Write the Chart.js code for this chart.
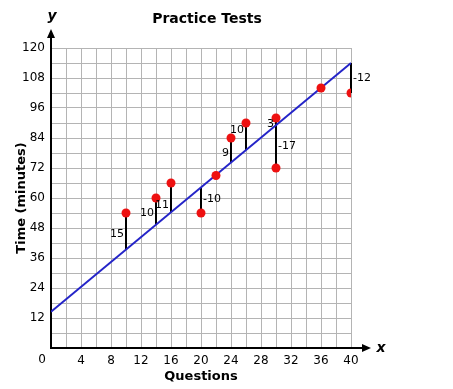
<!DOCTYPE html>
<html>
<head>
<meta charset="utf-8">
<script src="https://cdn.jsdelivr.net/npm/chart.js@4.4.1/dist/chart.umd.min.js"></script>
<style>
  html, body { margin: 0; padding: 0; background: #fff; }
  #wrap { width: 453px; height: 389px; }
</style>
</head>
<body>
<div id="wrap"><canvas id="practiceChart" width="453" height="389"></canvas></div>
<script>
// data
const questions = [10, 14, 16, 20, 22, 24, 26, 30, 30, 36, 40];
const minutes = [54, 60, 66, 54, 69, 84, 90, 92, 72, 104, 102];
const residualLabels = ['15', '10', '11', '-10', '', '9', '10', '3', '-17', '', '-12'];
const fitX = [0, 40];
const fitY = [14.5, 114];

const chartTitle = 'Practice Tests';
const xTitle = 'Questions';
const yTitle = 'Time (minutes)';

const FONT = '"DejaVu Sans", Verdana, sans-serif';
// small vertical nudges (px) so labels sit like the original
const labelNudge = [3, 2, 8, -1, 0, 3, -6, 3, 0, 0, 0];

// value of the fit line at x
function fitAt(x) {
    const t = (x - fitX[0]) / (fitX[1] - fitX[0]);
    return fitY[0] + t * (fitY[1] - fitY[0]);
}

// residual segments, labels, arrows and title
const extras = {
    id: 'extras',
    beforeDatasetsDraw(chart) {
        const ctx = chart.ctx;
        const xs = chart.scales.x, ys = chart.scales.y;
        ctx.save();
        ctx.strokeStyle = '#000';
        ctx.lineWidth = 2;
        questions.forEach((q, i) => {
            if (!residualLabels[i]) return;
            const px = xs.getPixelForValue(q);
            ctx.beginPath();
            ctx.moveTo(px, ys.getPixelForValue(minutes[i]));
            ctx.lineTo(px, ys.getPixelForValue(fitAt(q)));
            ctx.stroke();
        });
        ctx.restore();
    },
    afterDraw(chart) {
        const ctx = chart.ctx;
        const xs = chart.scales.x, ys = chart.scales.y;
        const area = chart.chartArea;
        ctx.save();

        // residual labels
        ctx.fillStyle = '#000';
        ctx.font = '11px ' + FONT;
        ctx.textBaseline = 'middle';
        questions.forEach((q, i) => {
            const lbl = residualLabels[i];
            if (!lbl) return;
            const px = xs.getPixelForValue(q);
            const mid = ys.getPixelForValue((minutes[i] + fitAt(q)) / 2) + labelNudge[i];
            if (lbl.startsWith('-')) {
                ctx.textAlign = 'left';
                ctx.fillText(lbl, px + 2, mid);
            } else {
                ctx.textAlign = 'right';
                ctx.fillText(lbl, px - 2, mid);
            }
        });

        // axis arrows
        ctx.strokeStyle = '#000';
        ctx.lineWidth = 2;
        ctx.beginPath();
        ctx.moveTo(area.left, area.top);
        ctx.lineTo(area.left, area.top - 12);
        ctx.moveTo(area.right, area.bottom);
        ctx.lineTo(area.right + 12, area.bottom);
        ctx.stroke();
        ctx.beginPath();
        ctx.moveTo(area.left, area.top - 19);
        ctx.lineTo(area.left - 4, area.top - 10);
        ctx.lineTo(area.left + 4, area.top - 10);
        ctx.closePath();
        ctx.moveTo(area.right + 20, area.bottom);
        ctx.lineTo(area.right + 11, area.bottom - 4);
        ctx.lineTo(area.right + 11, area.bottom + 4);
        ctx.closePath();
        ctx.fillStyle = '#000';
        ctx.fill();

        // axis letters
        ctx.font = 'italic bold 14px ' + FONT;
        ctx.textAlign = 'center';
        ctx.textBaseline = 'middle';
        ctx.fillText('y', area.left + 1, 16);
        ctx.fillText('x', area.right + 30, area.bottom);

        // origin label
        ctx.font = '12px ' + FONT;
        ctx.textBaseline = 'top';
        ctx.fillText('0', area.left - 9, area.bottom + 6);

        // title
        ctx.font = 'bold 14px ' + FONT;
        ctx.textBaseline = 'middle';
        ctx.fillText(chartTitle, 207, 19);
        ctx.restore();
    }
};

const ctx = document.getElementById('practiceChart').getContext('2d');
new Chart(ctx, {
    type: 'scatter',
    data: {
        datasets: [
            {
                type: 'line',
                data: fitX.map((x, i) => ({ x: x, y: fitY[i] })),
                borderColor: '#2424c8',
                borderWidth: 2,
                pointRadius: 0,
                fill: false,
                order: 2
            },
            {
                data: questions.map((q, i) => ({ x: q, y: minutes[i] })),
                backgroundColor: '#ee1111',
                borderWidth: 0,
                pointRadius: 4.5,
                order: 1
            }
        ]
    },
    options: {
        responsive: false,
        animation: false,
        layout: { padding: { top: 48, right: 102, left: 0, bottom: 0 } },
        plugins: { legend: { display: false }, tooltip: { enabled: false }, title: { display: false } },
        scales: {
            x: {
                type: 'linear',
                min: 0,
                max: 40,
                afterFit(scale) { scale.height = 41; },
                grid: { color: '#b4b4b4', lineWidth: 1, drawTicks: false },
                border: { color: '#000', width: 2 },
                ticks: {
                    stepSize: 2,
                    autoSkip: false,
                    maxRotation: 0,
                    padding: 6,
                    color: '#000',
                    font: { family: FONT, size: 12 },
                    callback: v => (v % 4 === 0 && v !== 0) ? String(v) : ''
                },
                title: {
                    display: true,
                    text: xTitle,
                    color: '#000',
                    font: { family: FONT, size: 13, weight: 'bold' },
                    padding: { top: 0, bottom: 5 }
                }
            },
            y: {
                min: 0,
                max: 120,
                afterFit(scale) { scale.width = 51; },
                grid: { color: '#b4b4b4', lineWidth: 1, drawTicks: false },
                border: { color: '#000', width: 2 },
                ticks: {
                    stepSize: 6,
                    autoSkip: false,
                    padding: 6,
                    color: '#000',
                    font: { family: FONT, size: 12 },
                    callback: v => (v % 12 === 0 && v !== 0) ? String(v) : ''
                },
                title: {
                    display: true,
                    text: yTitle,
                    color: '#000',
                    font: { family: FONT, size: 13, weight: 'bold' },
                    padding: { top: 14, bottom: 0 }
                }
            }
        }
    },
    plugins: [extras]
});
</script>
</body>
</html>
